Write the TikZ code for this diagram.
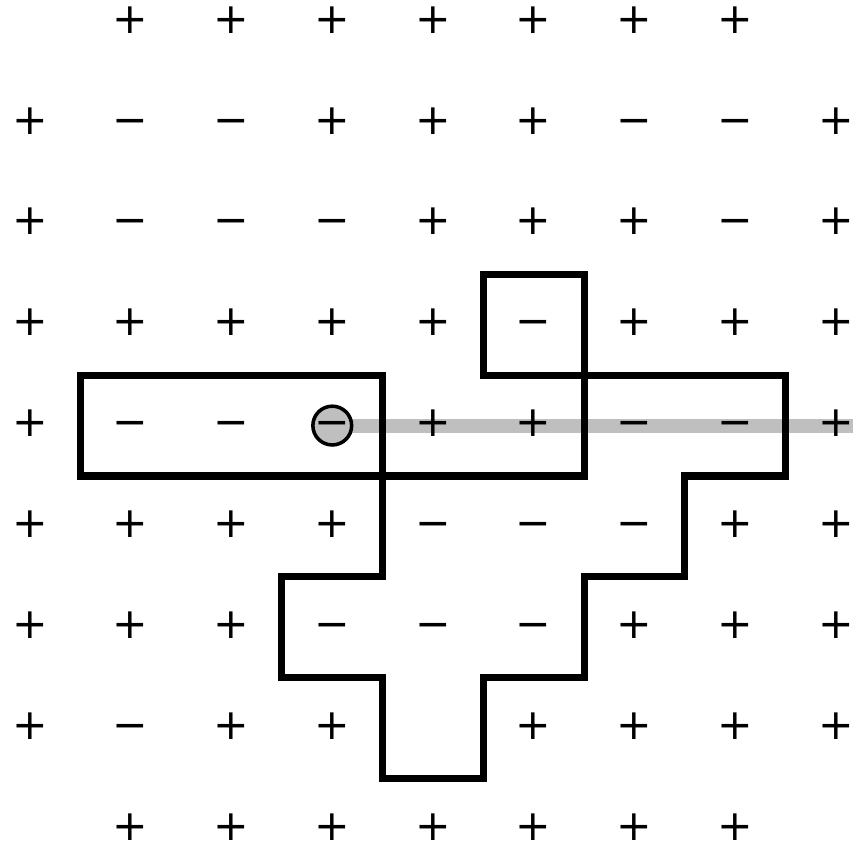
\documentclass[tikz,border=0pt]{standalone}
\usepackage{fontspec}
\setmainfont{DejaVu Sans}
\usetikzlibrary{backgrounds}
\definecolor{linegray}{RGB}{191,191,191}
\def\symp{+}
\def\symm{−}
\begin{document}
\begin{tikzpicture}[x=1cm,y=1.0015cm,
  sym/.style={inner sep=0pt,font=\fontsize{12}{14}\selectfont,text height=0.628em,text depth=0pt},
  wall/.style={draw=black,line width=2pt},
  flip/.style={circle,draw=black,line width=1pt,fill=linegray,minimum size=0.385cm,inner sep=0pt,font=\fontsize{12}{14}\selectfont,text height=0.628em,text depth=0pt},
  trail/.style={draw=linegray,line width=4pt}]
\useasboundingbox (-0.298,0.218) rectangle (8.169,-8.18);
% spins
\foreach \row [count=\j from 0] in {
  {x,p,p,p,p,p,p,p,x},
  {p,m,m,p,p,p,m,m,p},
  {p,m,m,m,p,p,p,m,p},
  {p,p,p,p,p,m,p,p,p},
  {p,m,m,x,p,p,m,m,p},
  {p,p,p,p,m,m,m,p,p},
  {p,p,p,m,m,m,p,p,p},
  {p,m,p,p,x,p,p,p,p},
  {x,p,p,p,p,p,p,p,x}}{
  \foreach \s [count=\i from 0] in \row {
    \if\s x\else
      \node[sym] (n\i-\j) at (\i,-\j) {\csname sym\s\endcsname};
    \fi
  }
}
% flipped spin
\node[flip] (c) at (3,-4) {\makebox[0pt]{−}};
\coordinate (gend) at (8.169,-4);
\begin{scope}[on background layer]
  \draw[trail] (c.center) -- (gend);
\end{scope}
% domain walls
\draw[wall] (0.5,-3.5) rectangle (3.5,-4.5);
\draw[wall] (4.5,-2.5) rectangle (5.5,-3.5);
\draw[wall] (3.5,-4.5) -- (5.5,-4.5) -- (5.5,-3.5) -- (7.5,-3.5) -- (7.5,-4.5)
  -- (6.5,-4.5) -- (6.5,-5.5) -- (5.5,-5.5) -- (5.5,-6.5) -- (4.5,-6.5)
  -- (4.5,-7.5) -- (3.5,-7.5) -- (3.5,-6.5) -- (2.5,-6.5) -- (2.5,-5.5)
  -- (3.5,-5.5) -- cycle;
\end{tikzpicture}
\end{document}
